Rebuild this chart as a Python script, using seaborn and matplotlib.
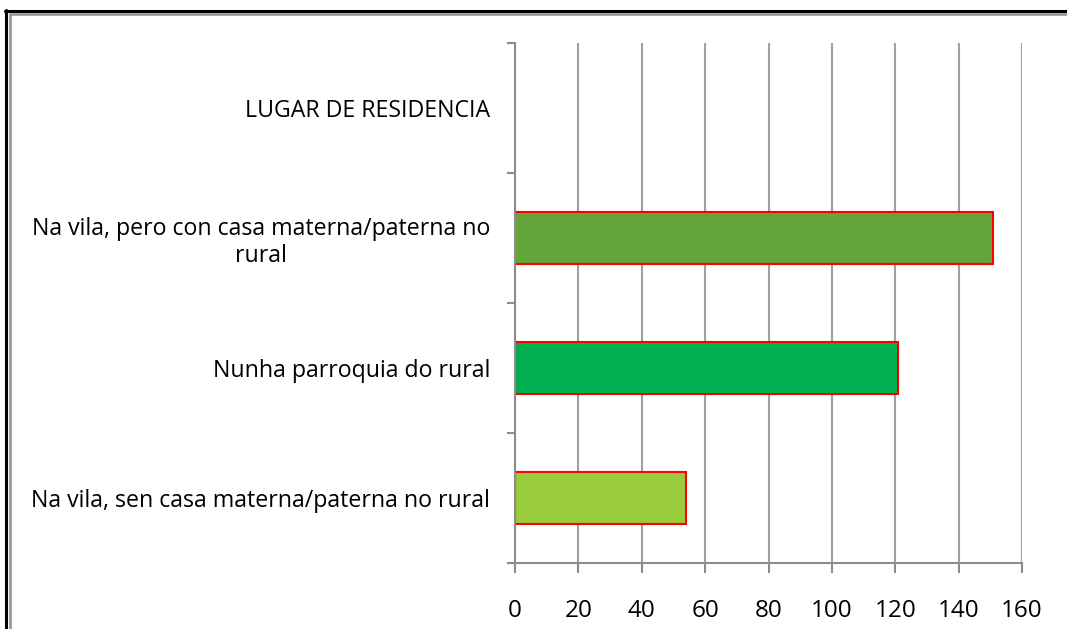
import numpy as np
import pandas as pd
import matplotlib
matplotlib.use("Agg")
import matplotlib.pyplot as plt
from matplotlib.lines import Line2D
import seaborn as sns

# data (top to bottom)
categories = [
    "LUGAR DE RESIDENCIA",
    "Na vila, pero con casa materna/paterna no\nrural",
    "Nunha parroquia do rural",
    "Na vila, sen casa materna/paterna no rural",
]
values = [np.nan, 151, 121, 54]
bar_colors = ["#FFFFFF", "#63A539", "#00B050", "#99CC3A"]
x_ticks = [0, 20, 40, 60, 80, 100, 120, 140, 160]

df = pd.DataFrame({"categoria": categories, "valor": values})

sns.set_style("white")
plt.rcParams["font.family"] = ["Open Sans", "DejaVu Sans"]

fig = plt.figure(figsize=(10.67, 6.29), dpi=100)
ax = fig.add_axes([0.4827, 0.1049, 0.4751, 0.8267])

sns.barplot(
    data=df, x="valor", y="categoria", hue="categoria",
    order=categories, palette=dict(zip(categories, bar_colors)),
    orient="h", width=0.4, saturation=1, edgecolor="#FF0000", linewidth=1.5,
    legend=False, ax=ax,
)

ax.set_xlim(0, 160)
ax.set_ylim(3.5, -0.5)
ax.set_xticks(x_ticks)
ax.set_xticklabels([str(t) for t in x_ticks], fontsize=17.5, color="black")
ax.set_xlabel("")
ax.set_ylabel("")

# category labels without tick marks, boundary ticks as minor ticks
ax.set_yticks(range(len(categories)))
ax.set_yticklabels(categories, fontsize=16.7, color="black", multialignment="center",
                   linespacing=1.15)
ax.set_yticks(np.arange(-0.5, len(categories), 1), minor=True)
ax.tick_params(axis="y", which="major", length=0, pad=18, left=False)
ax.tick_params(axis="y", which="minor", length=6, width=1.5, color="#8C8C8C",
               direction="out", left=True)
ax.tick_params(axis="x", which="major", length=7, width=1.5, color="#8C8C8C",
               direction="out", pad=19, bottom=True)

ax.grid(axis="x", color="#A0A0A0", linewidth=1.5)
ax.set_axisbelow(True)
for side in ["top", "right"]:
    ax.spines[side].set_visible(False)
for side in ["left", "bottom"]:
    ax.spines[side].set_color("#8C8C8C")
    ax.spines[side].set_linewidth(1.5)

# double frame on top and left edges of the picture
W, H = 1067, 629
fig.add_artist(Line2D([6 / W, 6 / W], [0, 1 - 10 / H], transform=fig.transFigure,
                      color="black", linewidth=2.2))
fig.add_artist(Line2D([5 / W, 1], [1 - 11 / H, 1 - 11 / H], transform=fig.transFigure,
                      color="black", linewidth=2.2))
fig.add_artist(Line2D([9.5 / W, 9.5 / W], [0, 1 - 14 / H], transform=fig.transFigure,
                      color="#9A9A9A", linewidth=2))
fig.add_artist(Line2D([9.5 / W, 1], [1 - 14 / H, 1 - 14 / H], transform=fig.transFigure,
                      color="#9A9A9A", linewidth=2))

fig.savefig("out.png", dpi=100)
